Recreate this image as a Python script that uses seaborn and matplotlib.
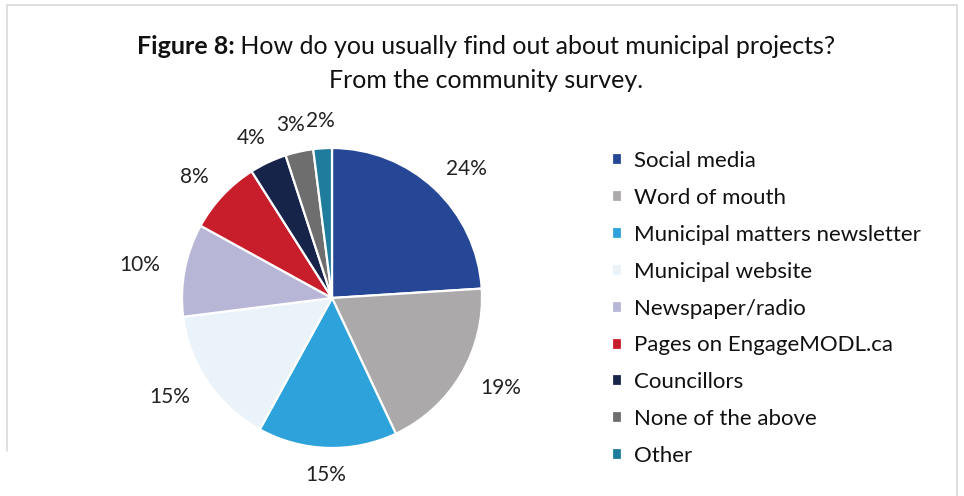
import numpy as np
import matplotlib
matplotlib.use("Agg")
import matplotlib.pyplot as plt
from matplotlib.lines import Line2D
import seaborn as sns

sns.set_theme(style="white")
plt.rcParams["font.family"] = ["Lato", "DejaVu Sans"]

# Survey responses: how residents hear about municipal projects (percent)
channels = [
    "Social media",
    "Word of mouth",
    "Municipal matters newsletter",
    "Municipal website",
    "Newspaper/radio",
    "Pages on EngageMODL.ca",
    "Councillors",
    "None of the above",
    "Other",
]
shares = [24, 19, 15, 15, 10, 8, 4, 3, 2]
colors = [
    "#264796", "#ABA9A9", "#2EA3DB", "#EAF3FA", "#B7B6D6",
    "#C81E2C", "#172449", "#6E6E6E", "#1F7C9C",
]

W, H = 964, 496
fig = plt.figure(figsize=(W / 100, H / 100), dpi=100)
fig.patch.set_facecolor("white")

# thin frame around the chart area
frame_kw = dict(color="#D9D9D9", lw=1.2, transform=fig.transFigure)
fig.add_artist(Line2D([7 / W, 957 / W], [1 - 5 / H, 1 - 5 / H], **frame_kw))
fig.add_artist(Line2D([7 / W, 7 / W], [1 - 5 / H, 1 - 451 / H], **frame_kw))
fig.add_artist(Line2D([957 / W, 957 / W], [1 - 5 / H, 0], **frame_kw))

# pie axes: centre (332, 298) px, radius 150 px
cx, cy, R = 332, 298, 150
ax = fig.add_axes([(cx - R) / W, 1 - (cy + R) / H, 2 * R / W, 2 * R / H])
wedges, _ = ax.pie(
    shares,
    colors=colors,
    startangle=90,
    counterclock=False,
    wedgeprops=dict(edgecolor="white", linewidth=1.6),
)
ax.set_xlim(-1, 1)
ax.set_ylim(-1, 1)
ax.set_aspect("equal")

# percentage labels just outside each wedge, pushed out by half their width
for w, v in zip(wedges, shares):
    ang = np.deg2rad((w.theta1 + w.theta2) / 2)
    label = f"{v}%"
    half_w = 0.045 * len(label)
    x = 1.17 * np.cos(ang) + half_w * np.cos(ang)
    y = 1.18 * np.sin(ang)
    ax.text(x, y, label, ha="center", va="center", fontsize=15,
            color="#222222", clip_on=False)

leg = fig.legend(
    wedges, channels,
    loc="upper left",
    bbox_to_anchor=(592 / W, 1 - 131 / H),
    frameon=False,
    fontsize=16,
    handlelength=0.45,
    handleheight=0.45,
    handletextpad=0.55,
    labelspacing=0.76,
    labelcolor="#111111",
)

# title: bold figure number followed by the question
fig.canvas.draw()
renderer = fig.canvas.get_renderer()
t_bold = fig.text(0, 1 - 47 / H, "Figure 8:", ha="left", va="center",
                  fontsize=18, fontweight="bold", color="#111111")
t_rest = fig.text(0, 1 - 47 / H, " How do you usually find out about municipal projects?",
                  ha="left", va="center", fontsize=18, color="#111111")
wb = t_bold.get_window_extent(renderer).width
wr = t_rest.get_window_extent(renderer).width
x0 = 486 - (wb + wr) / 2
t_bold.set_x(x0 / W)
t_rest.set_x((x0 + wb) / W)
fig.text(486 / W, 1 - 80 / H, "From the community survey.",
         ha="center", va="center", fontsize=18, color="#111111")

fig.savefig("out.png", dpi=100, facecolor="white")
